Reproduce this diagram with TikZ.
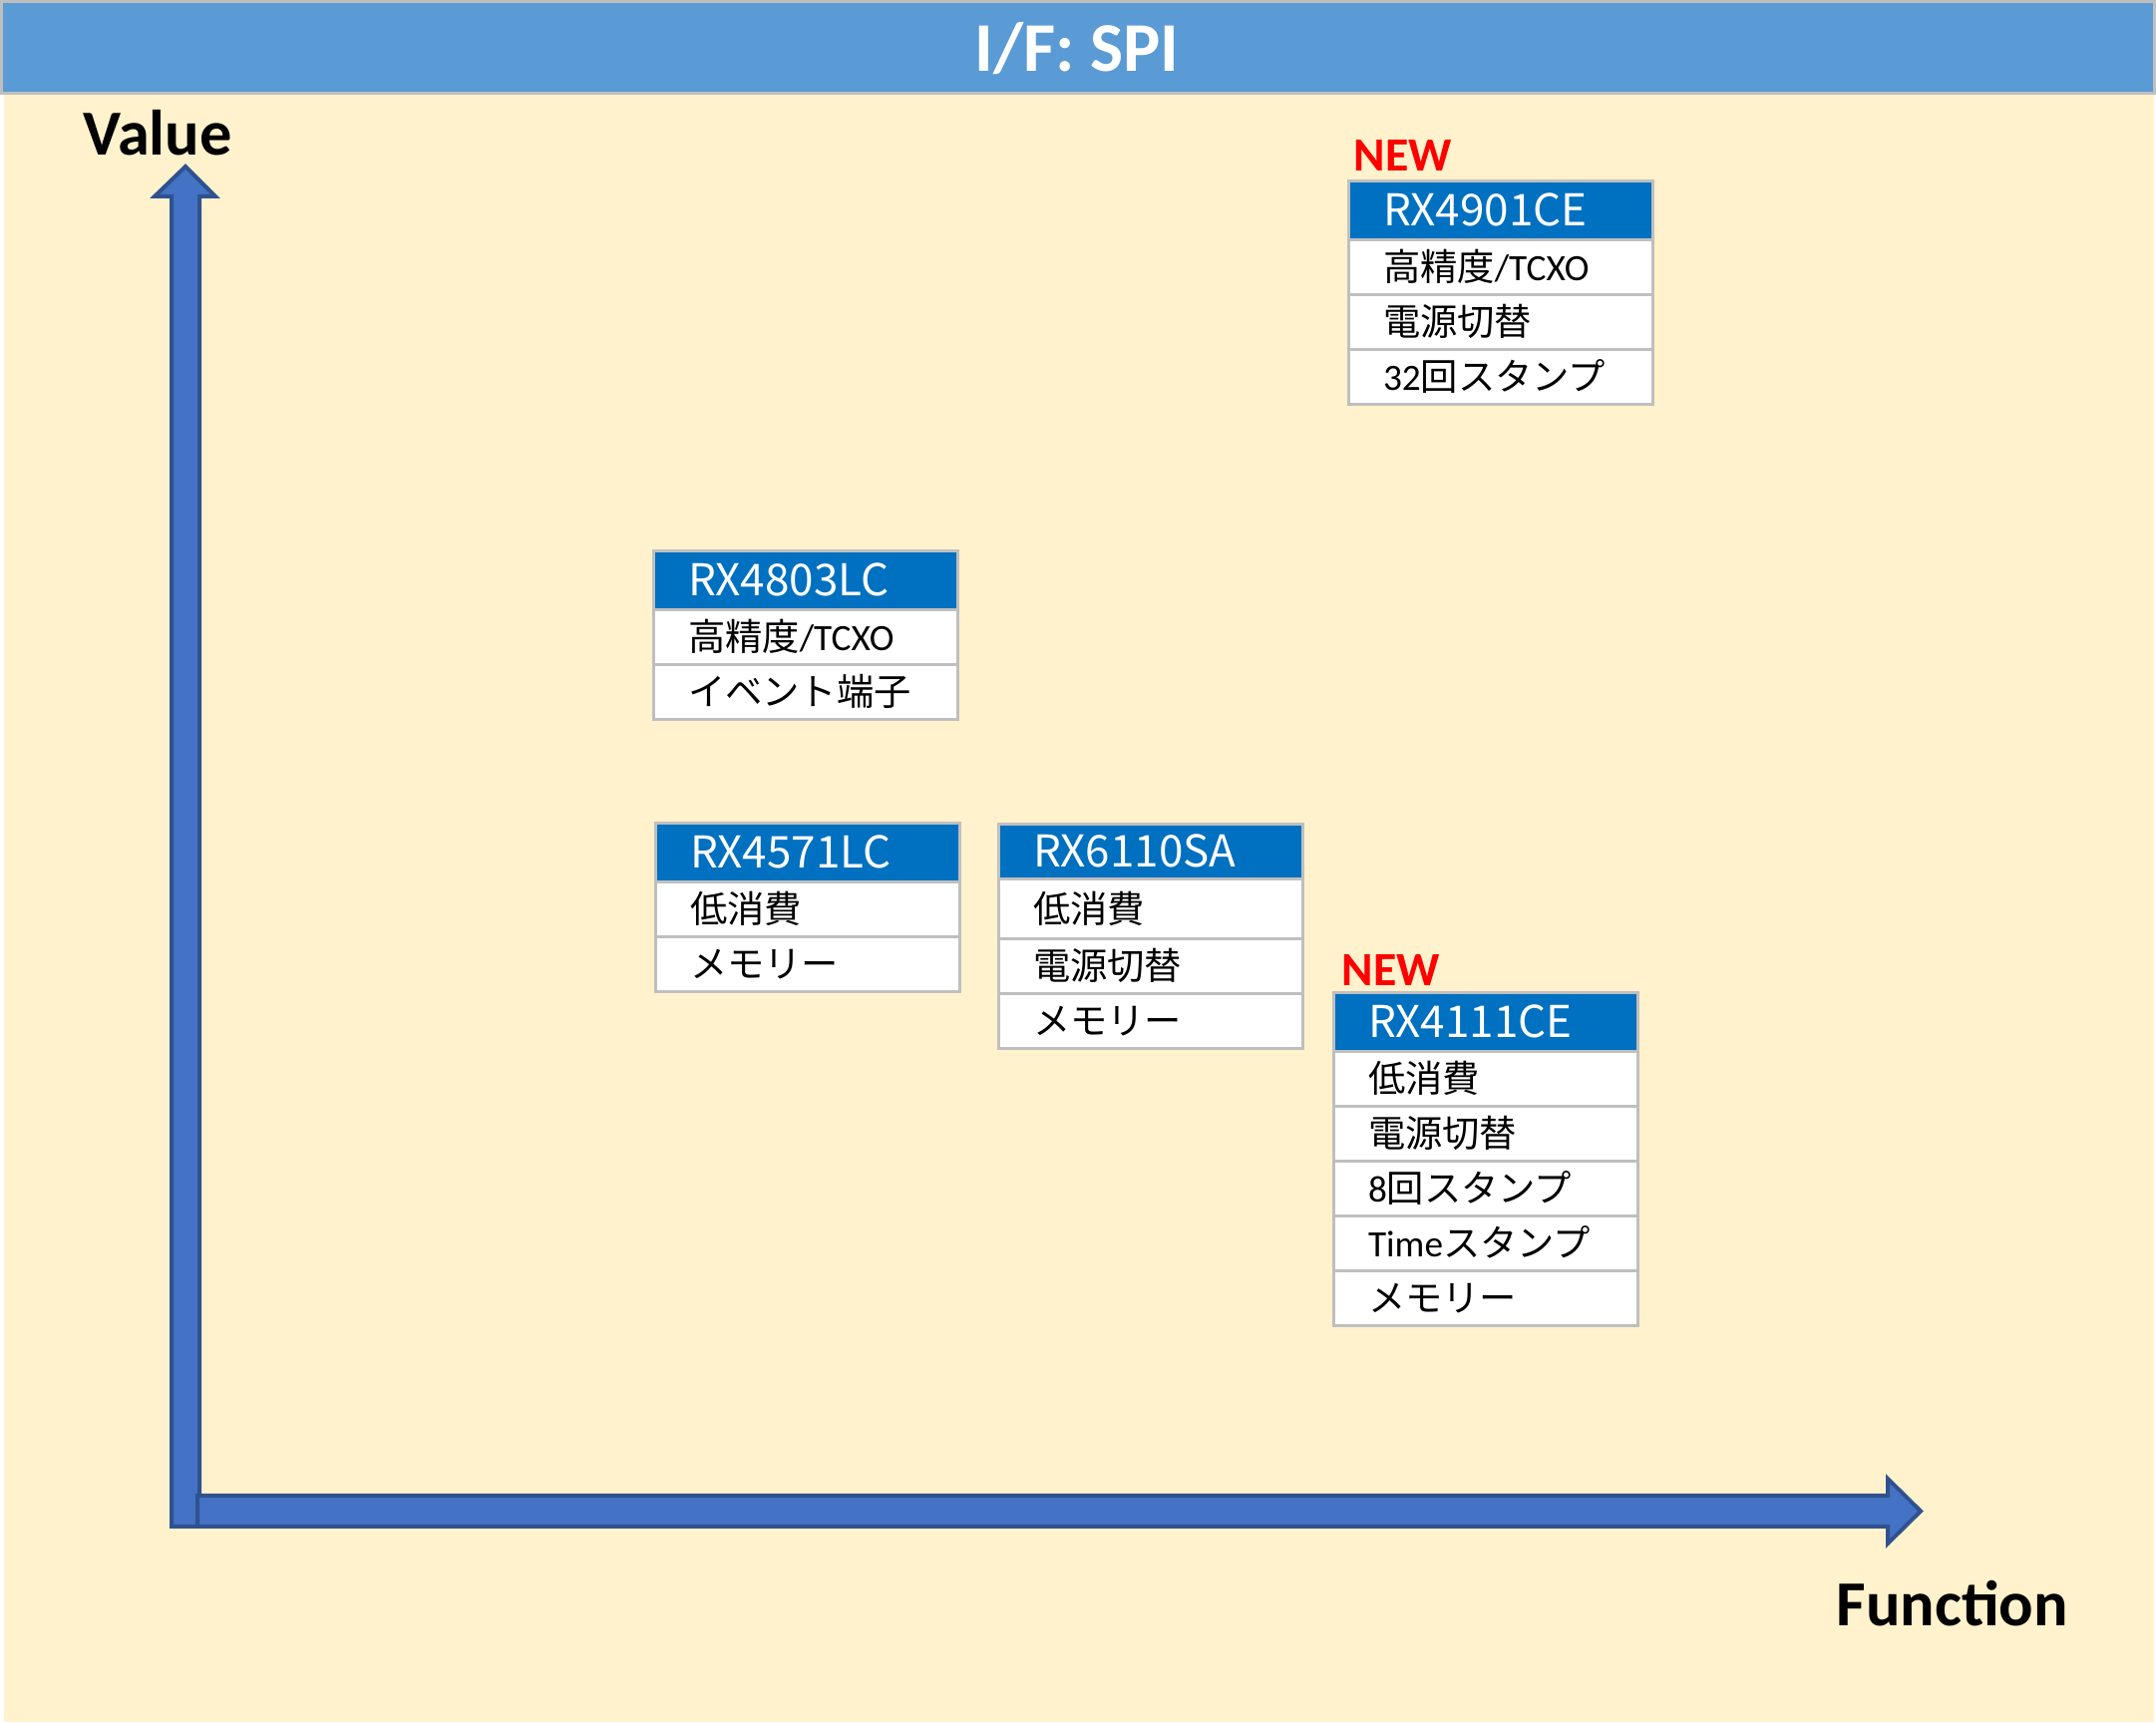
\documentclass[tikz,border=0pt]{standalone}
\usepackage{fontspec}
\setmainfont{Carlito}
\newfontfamily\jpfont{Noto Sans CJK JP}
\usetikzlibrary{positioning}
\definecolor{barblue}{HTML}{5B9BD5}
\definecolor{paper}{HTML}{FFF2CC}
\definecolor{hdrblue}{HTML}{0070C0}
\definecolor{framegray}{HTML}{BFBFBF}
\definecolor{axisfill}{HTML}{4472C4}
\definecolor{axisedge}{HTML}{2F528F}
\tikzset{
  part/.style={draw=framegray,line width=0.03cm,fill=hdrblue,text=white,
    text width=2.35cm,inner xsep=0.35cm,inner ysep=0pt,outer sep=0pt,
    minimum height=0.58cm,align=left,text height=0.31cm,text depth=0pt,
    font=\jpfont\fontsize{12.5}{14}\selectfont,anchor=north west},
  feat/.style={draw=framegray,line width=0.03cm,fill=white,
    text width=2.35cm,inner xsep=0.35cm,inner ysep=0pt,outer sep=0pt,
    minimum height=0.55cm,align=left,text height=0.28cm,text depth=0pt,
    font=\fontsize{10.6}{12}\selectfont},
  newtag/.style={text=red,font=\bfseries\fontsize{13.6}{15}\selectfont,inner sep=0pt,anchor=west},
  axislabel/.style={font=\bfseries\fontsize{18.3}{20}\selectfont,inner sep=0pt,anchor=west},
  axis/.style={fill=axisfill,draw=axisedge,line width=0.04cm}
}
\begin{document}
\begin{tikzpicture}[x=0.01cm,y=-0.01cm]
\useasboundingbox (0,0) rectangle (2162,1728);
% Background and title bar
\fill[white] (0,0) rectangle (2162,1728);
\fill[paper] (4,95) rectangle (2160,1727);
\draw[fill=barblue,draw=framegray,line width=0.03cm] (1.5,1.5) rectangle (2160,94);
\node[text=white,font=\bfseries\fontsize{19.9}{22}\selectfont,anchor=base] (title) at (1080,72) {I/F: SPI};

% Axes (block arrows)
\draw[axis] (172,1531) -- (172,197) -- (155,197) -- (186,167) -- (216,197) -- (200,197) -- (200,1531) -- cycle;
\draw[axis] (198,1500) -- (1893,1500) -- (1893,1483) -- (1926,1515.5) -- (1893,1548) -- (1893,1531) -- (198,1531) -- cycle;
\node[axislabel] (value) at (83,133) {Value};
\node[axislabel] (function) at (1841,1608) {Function};

% RX4901CE
\node[newtag] (new4901) at (1357,156) {NEW};
\node[part] (rx4901) at (1352,182) {RX4901CE};
\node[feat,below=0pt of rx4901] (rx4901-1) {{\jpfont 高精度}/TCXO};
\node[feat,below=0pt of rx4901-1] (rx4901-2) {\jpfont 電源切替};
\node[feat,below=0pt of rx4901-2] (rx4901-3) {32{\jpfont 回スタンプ}};

% RX4803LC
\node[part] (rx4803) at (655,553) {RX4803LC};
\node[feat,below=0pt of rx4803] (rx4803-1) {{\jpfont 高精度}/TCXO};
\node[feat,below=0pt of rx4803-1] (rx4803-2) {\jpfont イベント端子};

% RX4571LC
\node[part] (rx4571) at (657,826) {RX4571LC};
\node[feat,below=0pt of rx4571] (rx4571-1) {\jpfont 低消費};
\node[feat,below=0pt of rx4571-1] (rx4571-2) {\jpfont メモリー};

% RX6110SA
\node[part,minimum height=0.54cm] (rx6110) at (1001,827) {RX6110SA};
\node[feat,below=0pt of rx6110,minimum height=0.6cm] (rx6110-1) {\jpfont 低消費};
\node[feat,below=0pt of rx6110-1] (rx6110-2) {\jpfont 電源切替};
\node[feat,below=0pt of rx6110-2] (rx6110-3) {\jpfont メモリー};

% RX4111CE
\node[newtag] (new4111) at (1345,973) {NEW};
\node[part] (rx4111) at (1337,996) {RX4111CE};
\node[feat,below=0pt of rx4111] (rx4111-1) {\jpfont 低消費};
\node[feat,below=0pt of rx4111-1] (rx4111-2) {\jpfont 電源切替};
\node[feat,below=0pt of rx4111-2] (rx4111-3) {8{\jpfont 回スタンプ}};
\node[feat,below=0pt of rx4111-3] (rx4111-4) {Time{\jpfont スタンプ}};
\node[feat,below=0pt of rx4111-4] (rx4111-5) {\jpfont メモリー};
\end{tikzpicture}
\end{document}
